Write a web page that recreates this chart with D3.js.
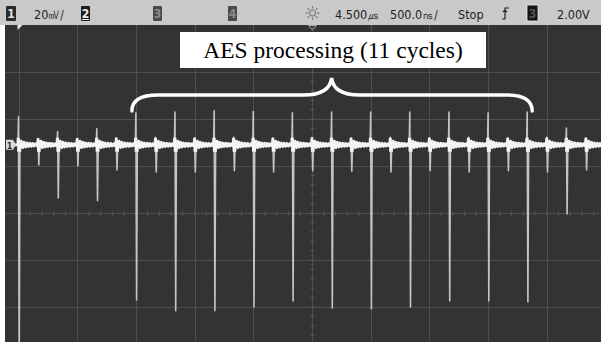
<!DOCTYPE html>
<html><head><meta charset="utf-8">
<script src="https://cdn.jsdelivr.net/npm/d3@7"></script>
<style>html,body{margin:0;padding:0;background:#fff;overflow:hidden}</style>
</head><body><svg id="c" width="601" height="342"></svg>
<script>
// ---- data (time in ns, voltage in mV) ----
const clockTimesNs = [2000, 2333, 2667, 3000, 3333, 3667, 4000, 4333, 4667, 5000, 5333, 5667, 6000, 6333, 6667];
const clockHighMV  = [12.0, 5.7, 6.8, 13.6, 14.0, 14.5, 14.2, 13.6, 14.0, 14.0, 14.0, 14.0, 13.6, 14.0, 7.2];
const clockLowMV   = [-100, -22.6, -23.8, -66.0, -70.6, -70.6, -69.0, -66.4, -69.4, -69.8, -69.0, -66.4, -66.4, -66.8, -29.4];
const glitchTimesNs = [2167, 2500, 2833, 3167, 3500, 3833, 4167, 4500, 4833, 5167, 5500, 5833, 6167, 6500, 6833];
const glitchHighMV  = [2.5, 2.5, 3.0, 3.2, 3.0, 3.2, 3.0, 3.2, 3.0, 3.2, 3.0, 3.2, 3.0, 3.2, 3.0];
const glitchLowMV   = [-8.6, -9.0, -10.7, -11.5, -11.5, -11.0, -11.5, -11.0, -11.2, -11.5, -11.0, -11.5, -11.0, -11.5, -10.7];
const ringMV = [1.6, -1.2, 1.1, -0.9, 0.8, -0.7, 0.7, -0.6, 0.6, -0.5, 0.5, -0.4];
const gridTimesNs = [2000, 2500, 3000, 3500, 4000, 4500, 5000, 5500, 6000, 6500];
const gridDivs = [4, 3, 2, 1, 0, -1, -2, -3];
const statusLabels = ["20", "4.500", "500.0", "Stop", "2.00V"];
const statusUnits  = ["㎷/", "㎲", "㎱/", "", ""];
const channelLabels = ["1", "2", "3", "4"];
const annotationText = "AES processing (11 cycles)";
const aesFirst = 3000, aesLast = 6333, aesMid = 4667;

// ---- layout ----
const svg = d3.select("#c");
const P = {left: 5, top: 25, right: 601, bottom: 342};
const x = d3.scaleLinear().domain([2000, 7000]).range([18.5, 605.5]);
const centerMV = -29;
const y = d3.scaleLinear().domain([centerMV - 80, centerMV + 80]).range([401, 25]);
const yDiv = d3.scaleLinear().domain([-4, 4]).range([401, 25]);

svg.append("rect").attr("width", 601).attr("height", 342).attr("fill", "#fff");
svg.append("rect").attr("width", 601).attr("height", 25).attr("fill", "#c9c9c9");
svg.append("rect").attr("x", P.left).attr("y", P.top).attr("width", P.right - P.left)
  .attr("height", P.bottom - P.top).attr("fill", "#333333");

const defs = svg.append("defs");
defs.append("clipPath").attr("id", "plotClip").append("rect")
  .attr("x", P.left).attr("y", P.top).attr("width", P.right - P.left).attr("height", P.bottom - P.top);
defs.append("clipPath").attr("id", "bandClip").append("rect")
  .attr("x", P.left).attr("y", y(0) - 7).attr("width", P.right - P.left).attr("height", 14);

const grid = svg.append("g").attr("clip-path", "url(#plotClip)");
grid.selectAll("line.v").data(gridTimesNs).join("line").attr("class", "v")
  .attr("x1", d => Math.round(x(d)) + 0.5).attr("x2", d => Math.round(x(d)) + 0.5)
  .attr("y1", P.top).attr("y2", P.bottom).attr("stroke", "#4e4e4e").attr("stroke-width", 1);
grid.selectAll("line.h").data(gridDivs.filter(d => d < 4)).join("line").attr("class", "h")
  .attr("y1", d => Math.round(yDiv(d)) + 0.5).attr("y2", d => Math.round(yDiv(d)) + 0.5)
  .attr("x1", P.left).attr("x2", P.right).attr("stroke", "#4e4e4e").attr("stroke-width", 1);
// center-axis minor ticks
const xc = Math.round(x(4500)) + 0.5, yc = Math.round(yDiv(0)) + 0.5;
grid.selectAll("line.tx").data(d3.range(2000, 7001, 100)).join("line").attr("class", "tx")
  .attr("x1", d => x(d)).attr("x2", d => x(d)).attr("y1", yc - 2).attr("y2", yc + 2)
  .attr("stroke", "#5a5a5a");
grid.selectAll("line.ty").data(d3.range(-4, 4.01, 0.2)).join("line").attr("class", "ty")
  .attr("y1", d => yDiv(d)).attr("y2", d => yDiv(d)).attr("x1", xc - 2).attr("x2", xc + 2)
  .attr("stroke", "#5a5a5a");

// ---- trace ----
const events = [];
clockTimesNs.forEach((t, i) => events.push({t, hi: clockHighMV[i], lo: clockLowMV[i]}));
glitchTimesNs.forEach((t, i) => events.push({t, hi: glitchHighMV[i], lo: glitchLowMV[i]}));
events.sort((a, b) => a.t - b.t);
const pts = [[1900, 0]];
events.forEach(e => {
  pts.push([e.t - 5, 0], [e.t, e.hi], [e.t + 6, e.lo], [e.t + 12, 0]);
  ringMV.forEach((v, k) => pts.push([e.t + 12 + 12 * (k + 1), v]));
});
pts.push([7100, 0]);
const line = d3.line().x(d => x(d[0])).y(d => y(d[1]));
const tr = svg.append("g").attr("clip-path", "url(#plotClip)");
tr.append("path").attr("d", line(pts)).attr("fill", "none").attr("stroke", "#c4c4c4")
  .attr("stroke-width", 1.6).attr("stroke-linejoin", "round");
tr.append("g").attr("clip-path", "url(#bandClip)").append("path").attr("d", line(pts))
  .attr("fill", "none").attr("stroke", "#f4f4f4").attr("stroke-width", 2.8).attr("stroke-linejoin", "round");

// ground marker "1"
const gy = y(0);
svg.append("path").attr("d", `M6,${gy-5} L13,${gy-5} L16,${gy} L13,${gy+5} L6,${gy+5} Z`).attr("fill", "#d8d8d8");
svg.append("text").attr("x", 9.5).attr("y", gy + 4).attr("text-anchor", "middle")
  .attr("font-family", "DejaVu Sans Condensed, DejaVu Sans").attr("font-size", 9).attr("font-weight", "bold")
  .attr("fill", "#333").text(channelLabels[0]);

// top markers
svg.append("path").attr("d", `M${x(2000)-1},25 L${x(2000)+4},25 L${x(2000)-1},30 Z`).attr("fill", "#e8e8e8");
svg.append("path").attr("d", `M${xc-4},25.5 L${xc+4},25.5 L${xc},30 Z`).attr("fill", "none").attr("stroke", "#aaa");

// ---- header ----
const font = "DejaVu Sans Condensed, DejaVu Sans, sans-serif";
const boxX = [6, 81, 153, 228];
const boxFill = ["#2a2a2a", "#1e1e1e", "#4a4a4a", "#4a4a4a"];
const digitFill = ["#e0e0e0", "#f0f0f0", "#8a8a8a", "#8a8a8a"];
channelLabels.forEach((c, i) => {
  svg.append("rect").attr("x", boxX[i]).attr("y", 6).attr("width", i === 0 ? 10 : 9).attr("height", 15)
    .attr("fill", boxFill[i]).attr("rx", 1);
  svg.append("text").attr("x", boxX[i] + (i === 0 ? 5 : 4.5)).attr("y", 18).attr("text-anchor", "middle")
    .attr("font-family", font).attr("font-size", 12).attr("font-weight", "bold").attr("fill", digitFill[i]).text(c);
});
svg.append("line").attr("x1", 82).attr("x2", 89).attr("y1", 19.5).attr("y2", 19.5).attr("stroke", "#f0f0f0");

const statusX = [34, 335, 390, 458, 557];
statusLabels.forEach((s, i) => {
  const t = svg.append("text").attr("x", statusX[i]).attr("y", 18.5).attr("font-family", font)
    .attr("font-size", 12.5).attr("fill", "#1e1e1e");
  t.append("tspan").text(s);
  if (statusUnits[i]) t.append("tspan").attr("font-size", 11.5).text(statusUnits[i]);
});

// sun icon
const sun = svg.append("g").attr("transform", "translate(312.5,13)").attr("stroke", "#7a7a7a").attr("fill", "none");
sun.append("circle").attr("r", 3).attr("stroke-width", 1.2);
d3.range(8).forEach(k => {
  const a = k * Math.PI / 4;
  sun.append("line").attr("x1", Math.cos(a) * 4.5).attr("y1", Math.sin(a) * 4.5)
    .attr("x2", Math.cos(a) * 7).attr("y2", Math.sin(a) * 7).attr("stroke-width", 1.2);
});
// trigger edge symbol
svg.append("path").attr("d", "M502,19 L505,19 L505,8 L509,8 M503,12 L505,10 L507,12")
  .attr("fill", "none").attr("stroke", "#222").attr("stroke-width", 1.2);
// trigger source box
svg.append("rect").attr("x", 527).attr("y", 5).attr("width", 11).attr("height", 16).attr("fill", "#151515")
  .attr("stroke", "#eee").attr("stroke-width", 0.8);
svg.append("text").attr("x", 532.5).attr("y", 18).attr("text-anchor", "middle").attr("font-family", font)
  .attr("font-size", 12).attr("font-weight", "bold").attr("fill", "#555").text(channelLabels[2]);

// ---- annotation ----
svg.append("rect").attr("x", 180).attr("y", 32).attr("width", 306).attr("height", 36).attr("fill", "#fff");
svg.append("text").attr("x", 333).attr("y", 57.5).attr("text-anchor", "middle")
  .attr("font-family", "Liberation Serif, Times New Roman, serif").attr("font-size", 23.5).attr("fill", "#000")
  .text(annotationText);
const bx0 = x(aesFirst) - 4, bx1 = x(aesLast) + 5, bm = x(aesMid), by = 95, byEnd = 111, byTop = 78;
svg.append("path")
  .attr("d", `M${bx0},${byEnd} Q${bx0},${by} ${bx0 + 26},${by} L${bm - 28},${by} Q${bm - 2},${by} ${bm},${byTop} Q${bm + 2},${by} ${bm + 28},${by} L${bx1 - 26},${by} Q${bx1},${by} ${bx1},${byEnd}`)
  .attr("fill", "none").attr("stroke", "#fff").attr("stroke-width", 3.5).attr("stroke-linecap", "round");
</script></body></html>
